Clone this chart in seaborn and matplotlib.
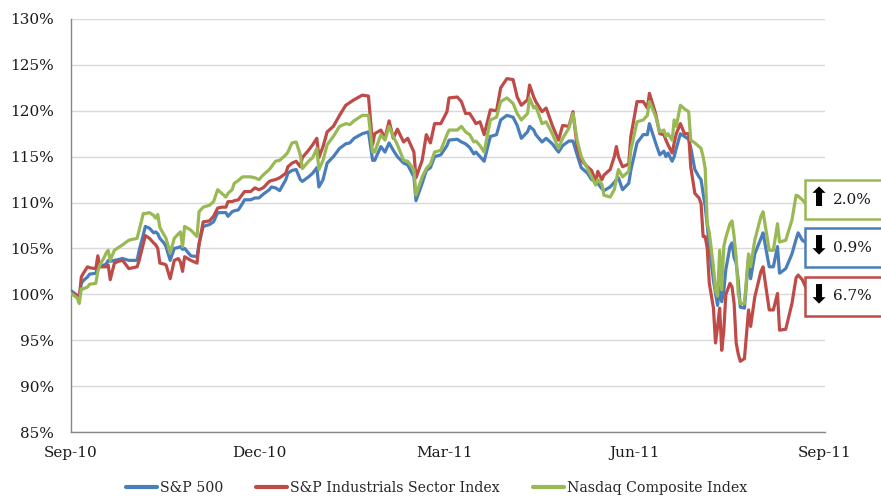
import matplotlib
matplotlib.use("Agg")
import matplotlib.pyplot as plt
import matplotlib.dates as mdates
import matplotlib.ticker as mticker
from matplotlib.lines import Line2D
from matplotlib.patches import Rectangle
import pandas as pd
import seaborn as sns

# Trading dates (sampled) and index levels relative to the start (%)
dates = [
    "2010-09-01", "2010-09-04", "2010-09-05", "2010-09-06", "2010-09-07", "2010-09-09", "2010-09-10",
    "2010-09-13", "2010-09-14", "2010-09-15", "2010-09-17", "2010-09-18", "2010-09-19", "2010-09-20",
    "2010-09-22", "2010-09-24", "2010-09-26", "2010-09-29", "2010-10-01", "2010-10-03", "2010-10-04",
    "2010-10-06", "2010-10-07", "2010-10-09", "2010-10-11", "2010-10-12", "2010-10-13", "2010-10-14",
    "2010-10-16", "2010-10-17", "2010-10-19", "2010-10-21", "2010-10-23", "2010-10-24", "2010-10-25",
    "2010-10-26", "2010-10-29", "2010-11-01", "2010-11-02", "2010-11-04", "2010-11-07", "2010-11-09",
    "2010-11-11", "2010-11-13", "2010-11-15", "2010-11-16", "2010-11-18", "2010-11-19", "2010-11-21",
    "2010-11-23", "2010-11-24", "2010-11-27", "2010-11-29", "2010-12-01", "2010-12-03", "2010-12-06",
    "2010-12-07", "2010-12-09", "2010-12-11", "2010-12-14", "2010-12-15", "2010-12-17", "2010-12-19",
    "2010-12-21", "2010-12-22", "2010-12-25", "2010-12-27", "2010-12-29", "2010-12-30", "2011-01-01",
    "2011-01-03", "2011-01-06", "2011-01-09", "2011-01-12", "2011-01-14", "2011-01-16", "2011-01-20",
    "2011-01-23", "2011-01-25", "2011-01-26", "2011-01-29", "2011-01-31", "2011-02-02", "2011-02-04",
    "2011-02-06", "2011-02-09", "2011-02-11", "2011-02-14", "2011-02-15", "2011-02-18", "2011-02-20",
    "2011-02-22", "2011-02-24", "2011-02-27", "2011-03-02", "2011-03-03", "2011-03-07", "2011-03-09",
    "2011-03-11", "2011-03-13", "2011-03-15", "2011-03-16", "2011-03-18", "2011-03-20", "2011-03-23",
    "2011-03-26", "2011-03-28", "2011-03-31", "2011-04-03", "2011-04-05", "2011-04-07", "2011-04-10",
    "2011-04-11", "2011-04-13", "2011-04-14", "2011-04-17", "2011-04-19", "2011-04-22", "2011-04-25",
    "2011-04-27", "2011-04-30", "2011-05-02", "2011-05-04", "2011-05-06", "2011-05-09", "2011-05-11",
    "2011-05-13", "2011-05-14", "2011-05-16", "2011-05-17", "2011-05-20", "2011-05-22", "2011-05-23",
    "2011-05-24", "2011-05-26", "2011-05-29", "2011-05-30", "2011-06-02", "2011-06-05", "2011-06-07",
    "2011-06-08", "2011-06-11", "2011-06-13", "2011-06-15", "2011-06-16", "2011-06-17", "2011-06-19",
    "2011-06-20", "2011-06-21", "2011-06-23", "2011-06-25", "2011-06-27", "2011-06-28", "2011-06-30",
    "2011-07-02", "2011-07-03", "2011-07-04", "2011-07-05", "2011-07-06", "2011-07-07", "2011-07-09",
    "2011-07-10", "2011-07-11", "2011-07-12", "2011-07-13", "2011-07-14", "2011-07-15", "2011-07-17",
    "2011-07-18", "2011-07-19", "2011-07-20", "2011-07-21", "2011-07-22", "2011-07-24", "2011-07-26",
    "2011-07-27", "2011-07-29", "2011-08-01", "2011-08-02", "2011-08-05", "2011-08-07", "2011-08-09",
    "2011-08-10", "2011-08-13", "2011-08-16", "2011-08-18", "2011-08-19", "2011-08-21", "2011-08-23",
]

sp500 = [
    100.4, 99.9, 99.6, 101.2, 101.5, 101.9, 102.2, 102.3, 103.0, 103.0, 103.2, 103.3, 103.7, 103.6,
    103.7, 103.8, 103.9, 103.7, 103.7, 103.7, 104.8, 106.5, 107.4, 107.2, 106.7, 106.8, 106.6, 106.1,
    105.6, 105.2, 103.7, 105.0, 105.1, 105.2, 104.9, 105.0, 104.2, 104.1, 105.5, 107.4, 107.6, 107.9,
    108.9, 108.9, 108.9, 108.5, 109.0, 109.1, 109.2, 109.9, 110.3, 110.3, 110.5, 110.5, 110.9, 111.4,
    111.7, 111.6, 111.3, 112.5, 113.2, 113.5, 113.6, 112.5, 112.3, 112.8, 113.2, 113.8, 111.7, 112.5,
    114.3, 115.0, 115.9, 116.4, 116.5, 117.0, 117.5, 117.7, 114.6, 114.6, 116.1, 115.5, 116.5, 115.7,
    115.0, 114.3, 114.1, 112.8, 110.2, 112.1, 113.5, 113.8, 115.0, 115.2, 116.2, 116.8, 116.9, 116.6,
    116.4, 116.0, 115.3, 115.5, 115.0, 114.5, 117.2, 117.4, 119.0, 119.5, 119.3, 118.4, 117.0, 117.7,
    118.3, 117.9, 117.4, 116.6, 117.0, 116.4, 115.5, 116.2, 116.7, 116.7, 115.2, 113.8, 113.2, 112.5,
    112.3, 112.1, 111.5, 111.3, 111.7, 112.2, 112.5, 112.7, 111.4, 112.1, 113.5, 116.5, 117.4, 117.4,
    118.6, 116.5, 115.2, 115.6, 115.0, 115.4, 114.5, 115.0, 115.9, 117.5, 117.2, 116.9, 116.0, 113.6,
    112.8, 112.5, 111.0, 109.6, 107.5, 105.2, 101.5, 100.1, 98.8, 100.8, 99.2, 100.4, 102.7, 105.2,
    105.6, 104.0, 103.4, 101.5, 98.6, 98.5, 104.1, 101.7, 104.4, 106.1, 106.7, 103.0, 103.0, 105.2,
    102.3, 102.8, 104.4, 106.0, 106.7, 105.9, 105.6,
]

industrials = [
    100.2, 99.8, 99.6, 101.9, 102.3, 103.0, 102.9, 102.8, 104.2, 103.0, 103.0, 103.0, 103.2, 101.6,
    103.4, 103.6, 103.7, 102.8, 102.9, 103.0, 103.7, 105.5, 106.4, 106.1, 105.6, 105.4, 105.0, 103.4,
    103.3, 103.2, 101.7, 103.7, 103.9, 103.5, 102.5, 104.1, 103.7, 103.4, 105.5, 107.9, 108.0, 108.5,
    109.4, 109.5, 109.5, 110.1, 110.1, 110.2, 110.3, 110.9, 111.2, 111.2, 111.6, 111.4, 111.6, 112.3,
    112.4, 112.5, 112.7, 113.2, 113.9, 114.3, 114.5, 113.9, 114.9, 115.7, 116.3, 117.0, 114.9, 116.1,
    117.7, 118.3, 119.5, 120.6, 120.9, 121.2, 121.7, 121.6, 116.3, 117.5, 117.9, 117.0, 118.9, 117.0,
    118.0, 116.6, 117.0, 115.5, 112.7, 114.6, 117.4, 116.5, 118.6, 118.6, 119.9, 121.4, 121.5, 121.0,
    119.7, 119.7, 119.0, 118.6, 118.8, 117.4, 120.1, 120.0, 122.5, 123.5, 123.4, 121.5, 120.6, 121.2,
    122.8, 121.5, 121.0, 119.9, 120.3, 118.4, 116.8, 118.4, 118.3, 119.9, 116.1, 114.6, 113.9, 113.5,
    112.3, 113.4, 112.5, 113.0, 113.6, 115.0, 116.1, 115.0, 113.9, 114.2, 117.2, 121.0, 121.0, 120.3,
    121.9, 119.7, 117.5, 117.4, 116.8, 116.3, 115.4, 116.5, 117.5, 118.6, 117.5, 117.5, 113.9, 111.0,
    110.5, 109.9, 106.3, 106.3, 105.0, 101.2, 98.5, 94.7, 96.5, 98.5, 93.9, 96.0, 100.0, 101.2,
    100.8, 99.0, 94.7, 93.5, 92.7, 93.0, 98.3, 96.5, 99.7, 102.5, 103.0, 98.3, 98.3, 100.1,
    96.1, 96.2, 99.0, 101.8, 102.1, 101.6, 100.6,
]

nasdaq = [
    100.1, 99.6, 99.0, 100.6, 100.6, 100.8, 101.1, 101.2, 102.5, 103.2, 104.0, 104.5, 104.8, 103.7,
    104.8, 105.1, 105.4, 105.9, 106.0, 106.1, 107.0, 108.8, 108.8, 108.9, 108.6, 108.3, 108.7, 107.3,
    106.5, 106.1, 104.5, 106.1, 106.6, 106.8, 105.2, 107.4, 107.0, 106.3, 109.0, 109.5, 109.7, 110.1,
    111.4, 111.0, 110.6, 111.0, 111.4, 112.1, 112.4, 112.8, 112.8, 112.8, 112.7, 112.5, 113.0, 113.6,
    113.9, 114.5, 114.6, 115.2, 115.5, 116.5, 116.6, 115.2, 113.7, 114.5, 114.9, 115.9, 113.6, 114.6,
    116.3, 117.2, 118.3, 118.6, 118.5, 118.9, 119.5, 119.5, 115.5, 115.5, 117.4, 116.8, 118.3, 117.2,
    116.3, 114.6, 114.5, 113.6, 110.8, 112.8, 113.7, 114.2, 115.5, 115.7, 117.4, 117.9, 117.9, 118.3,
    117.7, 117.4, 116.6, 116.7, 116.2, 115.5, 119.0, 119.3, 121.0, 121.4, 120.8, 119.7, 119.0, 119.7,
    121.4, 120.3, 120.5, 118.6, 118.8, 117.5, 115.9, 117.0, 118.1, 119.7, 116.8, 115.0, 113.7, 112.8,
    111.9, 112.5, 112.0, 110.8, 110.6, 111.4, 112.5, 113.6, 112.8, 113.4, 115.7, 118.8, 119.0, 119.5,
    121.0, 119.4, 117.7, 117.9, 117.2, 117.5, 116.8, 119.0, 118.3, 120.6, 120.2, 119.9, 116.8, 116.5,
    116.1, 115.9, 115.0, 113.7, 107.7, 106.7, 103.0, 100.4, 99.8, 104.8, 100.5, 105.2, 106.2, 107.7,
    108.0, 106.3, 104.0, 100.1, 99.0, 99.0, 104.4, 103.0, 105.9, 108.5, 109.0, 104.8, 104.8, 107.7,
    105.7, 105.9, 108.1, 110.8, 110.7, 110.3, 109.8,
]

series_names = ["S&P 500", "S&P Industrials Sector Index", "Nasdaq Composite Index"]
series_colors = ["#4A7EBB", "#BE4B48", "#98B954"]
period_change = [-0.9, -6.7, 2.0]   # change shown in the side call-outs (%)
y_ticks = [85, 90, 95, 100, 105, 110, 115, 120, 125, 130]
x_ticks = ["2010-09-01", "2010-12-01", "2011-03-01", "2011-06-01", "2011-09-01"]

frames = []
for name, values in zip(series_names, [sp500, industrials, nasdaq]):
    frames.append(pd.DataFrame({"Date": pd.to_datetime(dates), "Level": values, "Index": name}))
df = pd.concat(frames, ignore_index=True)

sns.set_theme(style="white")
plt.rcParams["font.family"] = ["DejaVu Serif", "DejaVu Sans"]

W, H = 881, 496
fig = plt.figure(figsize=(W / 100, H / 100), dpi=100)
ax = fig.add_axes([71 / W, 1 - 432 / H, (825 - 71) / W, (432 - 19) / H])

palette = dict(zip(series_names, series_colors))
sns.lineplot(data=df, x="Date", y="Level", hue="Index", hue_order=series_names,
             palette=palette, linewidth=2.3, ax=ax, legend=False, zorder=3)

ax.set_xlim(pd.Timestamp("2010-09-01"), pd.Timestamp("2011-09-01"))
ax.set_ylim(85, 130)
ax.set_yticks(y_ticks)
ax.yaxis.set_major_formatter(mticker.FuncFormatter(lambda v, p: f"{v:.0f}%"))
ax.set_xticks(pd.to_datetime(x_ticks))
ax.xaxis.set_major_formatter(mdates.DateFormatter("%b-%y"))
ax.set_xlabel("")
ax.set_ylabel("")

ax.grid(axis="y", color="#D9D9D9", linewidth=1.0, zorder=0)
ax.grid(axis="x", visible=False)
for side in ["top", "right"]:
    ax.spines[side].set_visible(False)
for side in ["left", "bottom"]:
    ax.spines[side].set_color("#868686")
    ax.spines[side].set_linewidth(1.0)
ax.tick_params(axis="both", which="major", direction="out", length=4, width=1,
               color="#868686", labelsize=11, labelcolor="#1a1a1a")
ax.tick_params(axis="x", pad=6)
ax.tick_params(axis="y", pad=8)

handles = [Line2D([0], [0], color=c, lw=3) for c in series_colors]
fig.legend(handles, series_names, loc="center", bbox_to_anchor=(0.4955, 1 - 488 / H),
           ncol=3, frameon=False, fontsize=10.2, handlelength=2.2, handletextpad=0.2,
           columnspacing=2.3)

# Side call-outs with the period change of each index
box_tops = {2: 180, 0: 228, 1: 277}
for i, top in box_tops.items():
    bottom = top + 39
    rect = Rectangle((805 / W, 1 - bottom / H), 80 / W, 39 / H, transform=fig.transFigure,
                     facecolor="white", edgecolor=series_colors[i], linewidth=1.8,
                     clip_on=False, zorder=10)
    fig.add_artist(rect)
    yc = 1 - (top + bottom) / 2 / H
    arrow = "\u2B06" if period_change[i] > 0 else "\u2B07"
    fig.text(819 / W, yc, arrow, ha="center", va="center", fontsize=19,
             family="DejaVu Sans", color="black", zorder=11)
    fig.text(833 / W, yc, f"{abs(period_change[i]):.1f}%", ha="left", va="center",
             fontsize=11, color="#1a1a1a", zorder=11)

fig.savefig("out.png", dpi=100)
